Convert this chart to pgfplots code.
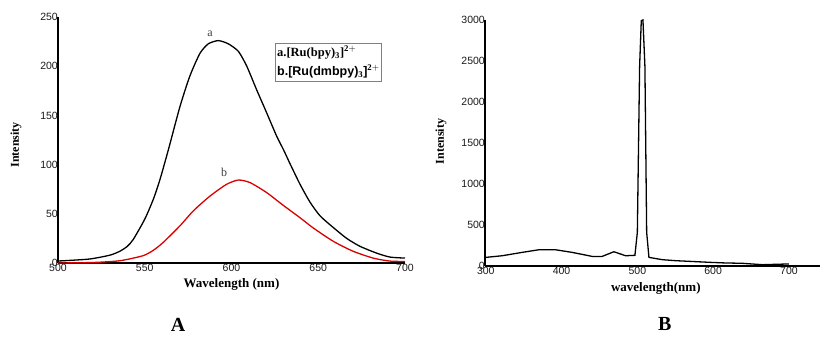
\documentclass[border=0pt]{standalone}
\usepackage{fontspec}
\setmainfont{Liberation Serif}
\setsansfont{Liberation Sans}
\usepackage{pgfplots}
\pgfplotsset{compat=1.18}
\begin{document}
\begin{tikzpicture}
\path[use as bounding box] (0,0) rectangle (820pt,339pt);
\pgfplotsset{
  myax/.style={
    scale only axis,
    axis x line=bottom, axis y line=left,
    axis line style={-, line width=1.3pt},
    major tick length=0pt,
    clip=false,
    /pgf/number format/assume math mode=true,
    /pgf/number format/1000 sep={},
    ticklabel style={font=\sffamily\fontsize{10.5}{11}\selectfont, text=black!90},
    xticklabel style={inner ysep=1pt},
    yticklabel style={inner xsep=0pt},
    xlabel style={font=\bfseries\fontsize{13}{14}\selectfont},
    ylabel style={font=\bfseries\fontsize{12}{13}\selectfont},
    anchor=south west,
  }
}
% Panel A
\begin{axis}[myax,
  at={(58pt,76pt)}, width=347pt, height=246pt,
  xmin=500, xmax=700, ymin=0, ymax=250,
  xtick={500,550,600,650,700}, ytick={0,50,100,150,200,250},
  xlabel={Wavelength (nm)}, ylabel={Intensity},
  xlabel style={at={(axis description cs:0.5,-0.087)}, anchor=center},
  ylabel style={at={(axis description cs:-0.121,0.48)}, anchor=center},
]
\addplot[black, line width=1.3pt, smooth, tension=0.4] coordinates {
(500,2) (518,4) (530,8) (535.7,12) (540,17) (543.4,24) (550,44.5) (555,65)
(558.8,85) (563.6,115) (570.3,159) (576,190) (581.8,213) (586.6,222.7) (592.4,226)
(598.2,222.7) (604,215) (608.8,200) (614.5,176) (620.3,152.5) (626,129) (630,115)
(633.7,101) (639.5,80) (645.2,62) (651,48) (658.7,36) (666.4,25) (674,17)
(683.7,10) (691.4,6) (700,5)};
\addplot[red!85!black, line width=1.3pt, smooth, tension=0.4] coordinates {
(500,0) (520,0.5) (535.7,2.3) (549,7.4) (555,13) (560.7,21) (570.3,37.8) (578,53)
(587.6,68) (597.2,80) (604,84.3) (610.7,81.7) (620.3,71.5) (629.9,58.5) (639.5,46)
(647.2,35.5) (658.7,22) (670,12) (681.6,5) (691,2) (700,1.5)};
\node[font=\fontsize{12}{13}\selectfont, text=black!75] at (axis cs:587.6,233) {a};
\node[font=\fontsize{12}{13}\selectfont, text=black!75] at (axis cs:595.7,92) {b};
\node[draw=gray, line width=0.6pt, anchor=north west, inner xsep=2pt, inner ysep=3pt, align=left,
  font=\bfseries\fontsize{12.5}{19}\selectfont]
  at (axis description cs:0.625,0.895)
  {a.[Ru(bpy)$_{\mathbf 3}$]$^{\mathbf{2+}}$\\ \sffamily b.[Ru(dmbpy)$_{\mathbf 3}$]$^{\mathbf{2+}}$};
\node[font=\bfseries\fontsize{20}{22}\selectfont] at (axis description cs:0.346,-0.25) {A};
\end{axis}
% Panel B
\begin{axis}[myax,
  at={(485pt,73pt)}, width=335pt, height=246pt,
  xmin=299, xmax=741, ymin=0, ymax=3000,
  xtick={300,400,500,600,700}, ytick={0,500,1000,1500,2000,2500,3000},
  xlabel={wavelength(nm)}, ylabel={Intensity},
  xlabel style={at={(axis description cs:0.51,-0.09)}, anchor=center},
  ylabel style={at={(axis description cs:-0.131,0.506)}, anchor=center},
]
\addplot[black, line width=1.3pt] coordinates {
(300,105) (321.6,125) (348,166) (370,198) (392,198) (414,166) (440.4,117) (453.6,117)
(469,174) (484.5,125) (496.8,130) (500,410) (503,2434) (505.2,2990) (507.4,3000)
(510,2434) (512.3,410) (515.3,105) (533,77) (550,65) (572.5,55) (594.6,45) (616,37)
(638,33) (665,16) (700,25)};
\node[font=\bfseries\fontsize{20}{22}\selectfont] at (axis description cs:0.537,-0.235) {B};
\end{axis}
\end{tikzpicture}
\end{document}
